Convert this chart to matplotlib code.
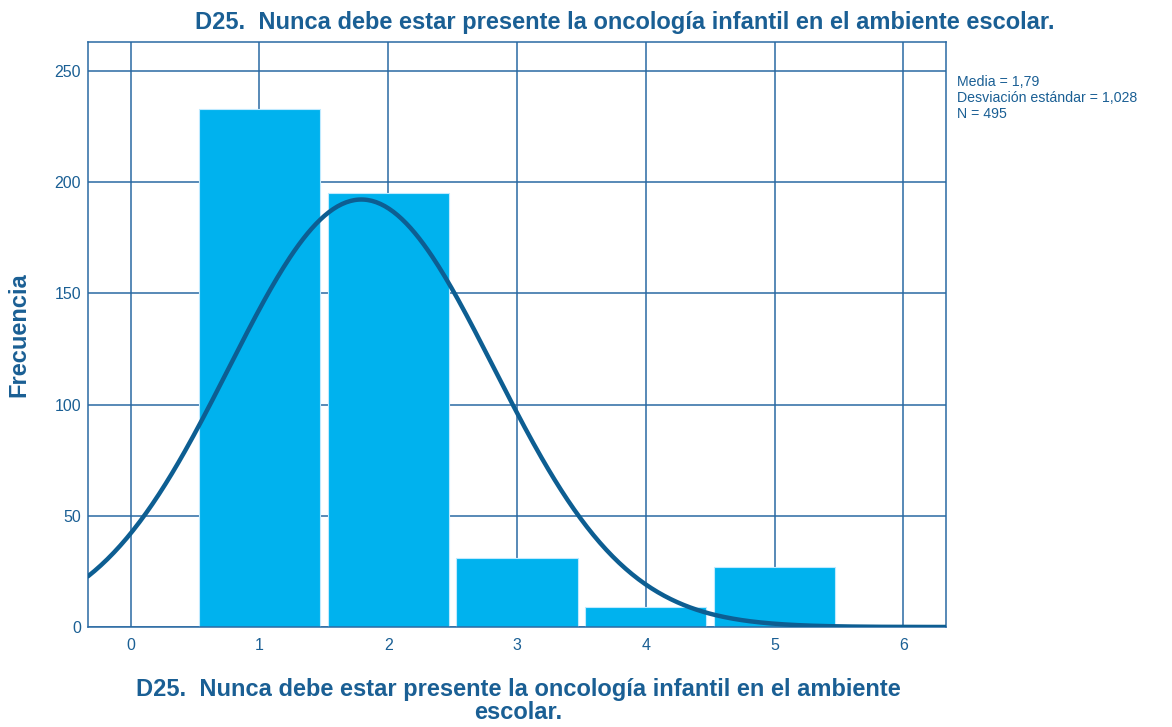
import numpy as np
import matplotlib
matplotlib.use("Agg")
import matplotlib.pyplot as plt

plt.rcParams['font.family'] = ['Liberation Sans', 'DejaVu Sans']

values = [1, 2, 3, 4, 5]
counts = [233, 195, 31, 9, 27]
title = "D25.  Nunca debe estar presente la oncología infantil en el ambiente escolar."
xlabel = "D25.  Nunca debe estar presente la oncología infantil en el ambiente\nescolar."
ylabel = "Frecuencia"

text_col = "#1a5f94"
grid_col = "#2a6aa3"
bar_col = "#00b2ee"
curve_col = "#0d5e92"

# fitted normal from the frequency table
n = sum(counts)
v = np.array(values, dtype=float)
c = np.array(counts, dtype=float)
mean = (v * c).sum() / n
sd = np.sqrt(((v - mean) ** 2 * c).sum() / (n - 1))

W, H = 1172, 727
fig = plt.figure(figsize=(W / 100, H / 100), dpi=100)
ax = fig.add_axes([88 / W, 1 - 627 / H, (946 - 88) / W, (627 - 42) / H])

ax.bar(values, counts, width=0.94, color=bar_col, edgecolor="#bfeaff", linewidth=0.8, zorder=2)

xs = np.linspace(-0.33, 6.33, 400)
pdf = n * np.exp(-0.5 * ((xs - mean) / sd) ** 2) / (sd * np.sqrt(2 * np.pi))
ax.plot(xs, pdf, color=curve_col, lw=3.2, zorder=3, solid_capstyle="round")

ax.set_xlim(-0.33, 6.33)
ax.set_ylim(0, 263)
ax.set_xticks(range(0, 7))
ax.set_yticks(range(0, 251, 50))
ax.grid(True, color=grid_col, lw=1.1, zorder=0)
ax.set_axisbelow(True)
for s in ax.spines.values():
    s.set_color(grid_col)
    s.set_linewidth(1.1)
ax.tick_params(length=0, colors=text_col, labelsize=11.5)
ax.tick_params(axis="x", pad=8)
ax.tick_params(axis="y", pad=5)

fig.text(18.5 / W, 1 - 335 / H, ylabel, fontsize=17, fontweight="bold", color=text_col,
         rotation=90, ha="center", va="center")
fig.text(518 / W, 1 - 701 / H, xlabel, fontsize=17, fontweight="bold", color=text_col,
         ha="center", va="center", linespacing=0.97, multialignment="center")
fig.text(625 / W, 1 - 22 / H, title, fontsize=17, fontweight="bold", color=text_col,
         ha="center", va="center")
fig.text(957 / W, 1 - 75 / H,
         f"Media = {mean:.2f}\nDesviación estándar = {sd:.3f}\nN = {n}".replace(".", ","),
         fontsize=10.2, color=text_col, ha="left", va="top", linespacing=1.2)

fig.savefig("out.png", dpi=100)
